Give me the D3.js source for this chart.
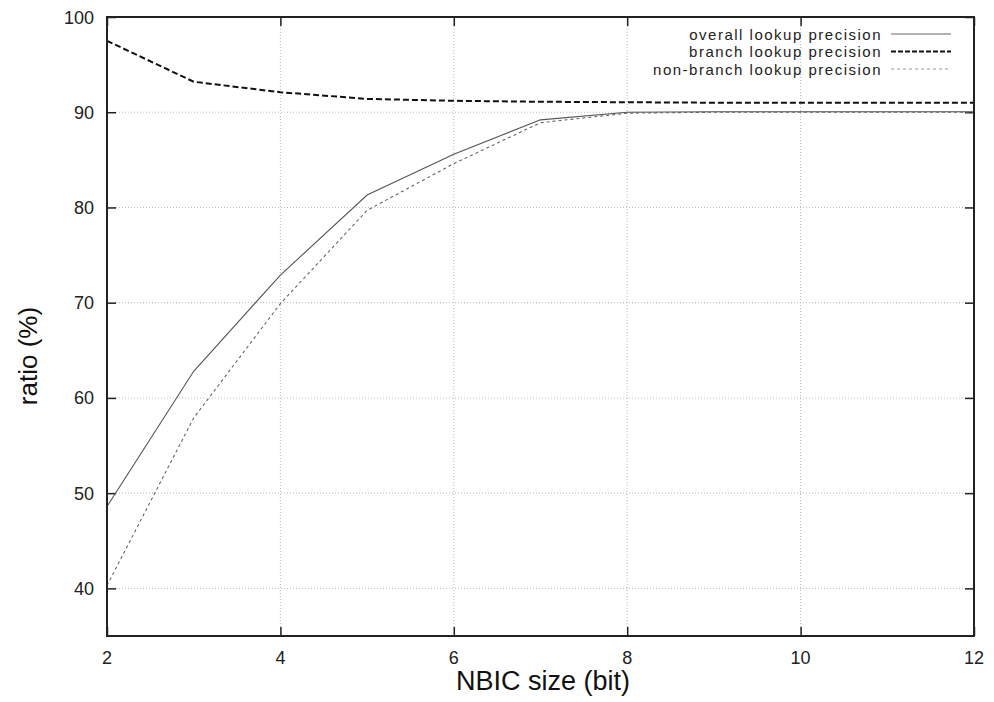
<!DOCTYPE html>
<html><head><meta charset="utf-8">
<script src="https://cdn.jsdelivr.net/npm/d3@7"></script>
<style>body{margin:0;background:#fff;} svg{display:block;font-family:"Liberation Sans",Arial,sans-serif;}</style>
</head><body>
<svg id="chart" width="994" height="702"></svg>
<script>
const xValues = [2,3,4,5,6,7,8,9,10,11,12];
const overall = [48.6,62.8,72.9,81.3,85.6,89.2,90.0,90.05,90.05,90.05,90.05];
const branch = [97.5,93.2,92.1,91.4,91.2,91.1,91.05,91.0,91.0,91.0,91.0];
const nonBranch = [40.3,57.9,69.9,79.7,84.6,88.9,89.9,90.0,90.0,90.0,90.0];
const seriesNames = ["overall lookup precision","branch lookup precision","non-branch lookup precision"];
const xTicks = [2,4,6,8,10,12];
const yTicks = [40,50,60,70,80,90,100];
const xTitle = "NBIC size (bit)";
const yTitle = "ratio (%)";

const svg = d3.select("#chart");
const L=107, R=974, T=17, B=636;
const x = d3.scaleLinear().domain([2,12]).range([L,R]);
const y = d3.scaleLinear().domain([35,100]).range([B,T]);

// grid
const g = svg.append("g");
g.selectAll(".gx").data(xTicks.filter(d=>d>2&&d<12)).enter().append("line")
  .attr("x1",d=>x(d)).attr("x2",d=>x(d)).attr("y1",T).attr("y2",B)
  .attr("stroke","#bbb").attr("stroke-width",1).attr("stroke-dasharray","1,2");
g.selectAll(".gy").data(yTicks.filter(d=>d<100)).enter().append("line")
  .attr("x1",L).attr("x2",R).attr("y1",d=>y(d)).attr("y2",d=>y(d))
  .attr("stroke","#bbb").attr("stroke-width",1).attr("stroke-dasharray","1,2");

// axes with inward ticks, mirrored
const ax = svg.append("g");
ax.append("g").attr("transform",`translate(${L},0)`)
  .call(d3.axisRight(y).tickValues(yTicks).tickSize(9).tickFormat(""))
  .call(s=>s.select(".domain").remove());
ax.append("g").attr("transform",`translate(${R},0)`)
  .call(d3.axisLeft(y).tickValues(yTicks).tickSize(9).tickFormat(""))
  .call(s=>s.select(".domain").remove());
ax.append("g").attr("transform",`translate(0,${B})`)
  .call(d3.axisTop(x).tickValues(xTicks).tickSize(9).tickFormat(""))
  .call(s=>s.select(".domain").remove());
ax.append("g").attr("transform",`translate(0,${T})`)
  .call(d3.axisBottom(x).tickValues(xTicks).tickSize(9).tickFormat(""))
  .call(s=>s.select(".domain").remove());
ax.selectAll(".tick line").attr("stroke","#222").attr("stroke-width",1.5);

// tick labels
svg.selectAll(".yl").data(yTicks).enter().append("text")
  .attr("x",94).attr("y",d=>y(d)+6.5).attr("text-anchor","end")
  .attr("font-size",18).attr("fill","#222").text(d=>d);
svg.selectAll(".xl").data(xTicks).enter().append("text")
  .attr("x",d=>x(d)).attr("y",664).attr("text-anchor","middle")
  .attr("font-size",18).attr("fill","#222").text(d=>d);

// titles
svg.append("text").attr("x",543).attr("y",690).attr("text-anchor","middle")
  .attr("font-size",27).attr("fill","#111").text(xTitle);
svg.append("text").attr("transform","translate(37,356) rotate(-90)").attr("text-anchor","middle")
  .attr("font-size",26).attr("fill","#111").text(yTitle);

// lines
const styles = [
  {stroke:"#555", w:1.1, dash:null},
  {stroke:"#111", w:2, dash:"6,3"},
  {stroke:"#666", w:1.1, dash:"3,3"}
];
const legendStyles = [
  {stroke:"#999", w:1.4, dash:null},
  {stroke:"#111", w:2, dash:"5,2"},
  {stroke:"#bbb", w:1.4, dash:"3,3"}
];
const series = [overall, branch, nonBranch];
const line = d3.line().x((d,i)=>x(xValues[i])).y(d=>y(d));
series.forEach((s,k)=>{
  svg.append("path").attr("d",line(s)).attr("fill","none")
    .attr("stroke",styles[k].stroke).attr("stroke-width",styles[k].w)
    .attr("stroke-dasharray",styles[k].dash);
});

// legend
const legY = [34,51.5,69];
seriesNames.forEach((n,k)=>{
  svg.append("text").attr("x",882).attr("y",legY[k]+5.5).attr("text-anchor","end")
    .attr("font-size",15).attr("letter-spacing",1.5).attr("fill","#222").text(n);
  svg.append("line").attr("x1",891).attr("x2",951).attr("y1",legY[k]).attr("y2",legY[k])
    .attr("stroke",legendStyles[k].stroke).attr("stroke-width",legendStyles[k].w)
    .attr("stroke-dasharray",legendStyles[k].dash);
});

// frame
svg.append("rect").attr("x",L).attr("y",T).attr("width",R-L).attr("height",B-T)
  .attr("fill","none").attr("stroke","#222").attr("stroke-width",2);
</script>
</body></html>
